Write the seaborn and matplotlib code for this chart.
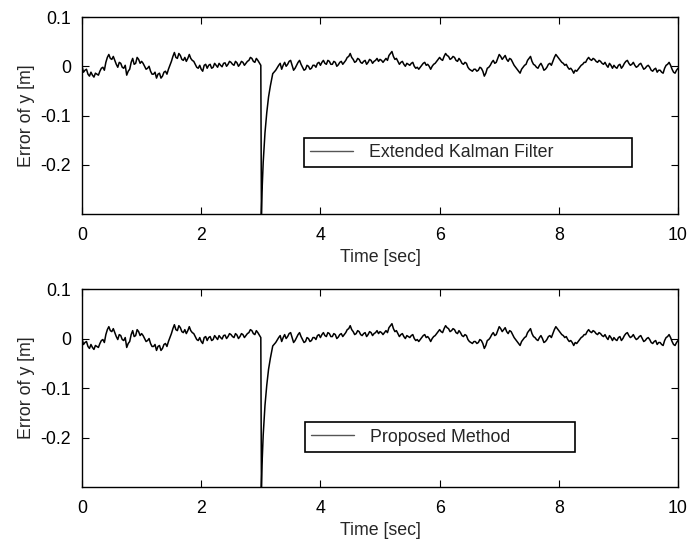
import numpy as np
import pandas as pd
import matplotlib
matplotlib.use("Agg")
import matplotlib.pyplot as plt
import seaborn as sns

# ---- data ----
step = 0.05
pre_start = 0.0
pre_values = [0.000, -0.008, -0.016, -0.012, -0.022, -0.016, -0.010, -0.002, 0.008, 0.024,
              0.014, 0.012, -0.002, 0.006, -0.004, -0.018, -0.006, 0.016, 0.006, 0.014,
              0.010, 0.000, -0.004, -0.010, -0.016, -0.024, -0.014, -0.020, -0.010, -0.006,
              0.010, 0.028, 0.016, 0.022, 0.012, 0.010, 0.024, 0.012, 0.004, -0.004,
              -0.006, 0.002, -0.004, 0.004, -0.002, 0.002, 0.006, -0.001, 0.007, 0.004,
              0.008, 0.002, 0.007, 0.004, 0.008, 0.006, 0.012, 0.016, 0.008, 0.012]
pre_mid_values = [-0.012, -0.006, -0.020, -0.018, -0.014, -0.018, -0.004, -0.008, 0.018, 0.016,
                  0.020, 0.004, 0.008, -0.002, 0.002, -0.010, 0.008, 0.004, 0.018, 0.006,
                  0.006, -0.006, 0.000, -0.016, -0.012, -0.016, -0.024, -0.012, -0.016, 0.002,
                  0.020, 0.018, 0.026, 0.014, 0.018, 0.016, 0.016, 0.010, -0.002, 0.002,
                  -0.010, 0.004, 0.002, -0.004, 0.006, -0.002, 0.002, 0.006, 0.000, 0.010,
                  0.004, 0.010, 0.000, 0.010, 0.002, 0.010, 0.018, 0.010, 0.016]
spike_time = [3.00, 3.01, 3.02, 3.04, 3.07, 3.10, 3.13, 3.16, 3.20, 3.25]
spike_values = [0.002, -0.300, -0.255, -0.195, -0.135, -0.094, -0.062, -0.040, -0.015, -0.008]
post_start = 3.30
post_values = [0.002, -0.006, 0.008, 0.004, 0.012, -0.008, 0.002, 0.012, -0.002, -0.006,
               0.000, -0.004, 0.002, 0.006, 0.002, 0.012, 0.004, 0.010, 0.004, 0.008,
               0.003, 0.010, 0.008, 0.018, 0.026, 0.014, 0.010, 0.014, 0.006, 0.012,
               0.008, 0.012, 0.010, 0.016, 0.014, 0.008, 0.016, 0.022, 0.030, 0.014,
               0.010, 0.008, 0.004, 0.006, 0.002, 0.008, -0.004, -0.006, 0.002, 0.008,
               0.004, -0.006, 0.004, 0.010, 0.018, 0.012, 0.026, 0.020, 0.016, 0.018,
               0.010, 0.012, 0.004, 0.006, -0.006, -0.010, -0.006, -0.008, -0.004, -0.020,
               -0.004, 0.002, 0.012, 0.008, 0.024, 0.014, 0.022, 0.010, 0.014, 0.002,
               -0.006, -0.014, -0.002, 0.004, 0.016, 0.010, 0.002, -0.004, 0.006, -0.008,
               -0.002, 0.006, 0.010, 0.024, 0.016, 0.008, 0.002, -0.002, -0.004, -0.014,
               -0.010, -0.002, 0.004, 0.008, 0.018, 0.012, 0.014, 0.008, 0.010, 0.004,
               0.002, 0.006, -0.004, -0.002, 0.002, -0.004, 0.006, 0.012, 0.002, 0.008,
               -0.002, 0.004, 0.000, -0.004, 0.002, -0.008, -0.006, -0.012, -0.008, -0.014,
               0.002, 0.008, -0.006, -0.014, -0.004]
post_mid_values = [0.006, 0.002, 0.000, 0.010, 0.002, -0.004, 0.008, 0.004, -0.008, 0.002,
                   -0.006, 0.002, -0.002, 0.008, 0.008, 0.006, 0.012, 0.004, 0.010, 0.000,
                   0.008, 0.004, 0.012, 0.020, 0.018, 0.008, 0.016, 0.008, 0.010, 0.004,
                   0.014, 0.006, 0.012, 0.010, 0.012, 0.012, 0.012, 0.026, 0.020, 0.016,
                   0.004, 0.010, 0.000, 0.004, 0.006, 0.000, -0.002, -0.002, 0.006, 0.002,
                   0.000, 0.000, 0.006, 0.014, 0.014, 0.020, 0.022, 0.014, 0.020, 0.012,
                   0.016, 0.006, 0.008, -0.002, -0.008, -0.006, -0.010, -0.002, -0.010, -0.014,
                   -0.002, 0.008, 0.006, 0.016, 0.020, 0.018, 0.014, 0.016, 0.008, -0.002,
                   -0.010, -0.006, 0.002, 0.012, 0.020, 0.004, -0.002, 0.002, 0.000, -0.006,
                   0.004, 0.002, 0.018, 0.020, 0.012, 0.006, 0.004, -0.006, -0.008, -0.008,
                   -0.006, 0.002, 0.008, 0.014, 0.014, 0.016, 0.010, 0.012, 0.006, 0.008,
                   -0.002, 0.002, 0.002, -0.004, 0.004, 0.000, 0.010, 0.006, 0.004, 0.002,
                   0.000, 0.006, -0.006, 0.000, -0.002, -0.010, -0.004, -0.008, -0.012, -0.004,
                   0.004, 0.002, -0.012, -0.008]

x_ticks = [0, 2, 4, 6, 8, 10]
y_ticks = [0.1, 0.0, -0.1, -0.2]
y_tick_labels = ["0.1", "0", "-0.1", "-0.2"]
labels = ["Extended Kalman Filter", "Proposed Method"]
x_label = "Time [sec]"
y_label = "Error of y [m]"

# ---- assemble series (sample times of the values above) ----
points = []
points += [(round(pre_start + i * step, 3), v) for i, v in enumerate(pre_values)]
points += [(round(pre_start + step / 2 + i * step, 3), v) for i, v in enumerate(pre_mid_values)]
points += list(zip(spike_time, spike_values))
points += [(round(post_start + i * step, 3), v) for i, v in enumerate(post_values)]
points += [(round(post_start + step / 2 + i * step, 3), v) for i, v in enumerate(post_mid_values)]
points.sort(key=lambda p: p[0])
time = [p[0] for p in points]
ekf_values = [p[1] for p in points]
proposed_values = list(ekf_values)

df = pd.DataFrame({"t": time, "ekf": ekf_values, "prop": proposed_values})

sns.set_style("ticks")
plt.rcParams["font.family"] = ["Liberation Sans", "DejaVu Sans"]
plt.rcParams["axes.unicode_minus"] = False
FS = 12.8

fig = plt.figure(figsize=(6.88, 5.46), dpi=100)
ax1 = fig.add_axes([0.1192, 0.608, 0.8663, 0.3608])
ax2 = fig.add_axes([0.1192, 0.108, 0.8663, 0.3626])

legend_boxes = [(0.3725, 0.2386, 0.5505, 0.1474), (0.374, 0.177, 0.453, 0.151)]

for ax, col, lab, box in zip([ax1, ax2], ["ekf", "prop"], labels, legend_boxes):
    sns.lineplot(data=df, x="t", y=col, ax=ax, color="black", lw=1.1,
                 label=lab, estimator=None, sort=False)
    ax.set_xlim(0, 10)
    ax.set_ylim(-0.3, 0.1)
    ax.set_xticks(x_ticks)
    ax.set_xticklabels([str(v) for v in x_ticks], fontsize=FS)
    ax.set_yticks(y_ticks)
    ax.set_yticklabels(y_tick_labels, fontsize=FS)
    ax.tick_params(direction="in", length=5, width=0.8, top=True, right=True,
                   pad=8, colors="black")
    ax.tick_params(axis="x", pad=9)
    for s in ax.spines.values():
        s.set_linewidth(1.0)
        s.set_color("black")
        s.set_visible(True)
    ax.set_xlabel(x_label, fontsize=FS, labelpad=4)
    ax.set_ylabel(y_label, fontsize=FS, labelpad=4)
    leg = ax.legend(loc="center left", bbox_to_anchor=box, mode="expand",
                    fontsize=FS, frameon=True, fancybox=False, framealpha=1,
                    edgecolor="black", handlelength=2.4, handletextpad=0.9,
                    borderpad=0.35, borderaxespad=0)
    leg.get_frame().set_linewidth(1.2)
    for h in leg.get_lines():
        h.set_color("#555555")
        h.set_linewidth(1.0)

fig.savefig("out.png", dpi=100)
